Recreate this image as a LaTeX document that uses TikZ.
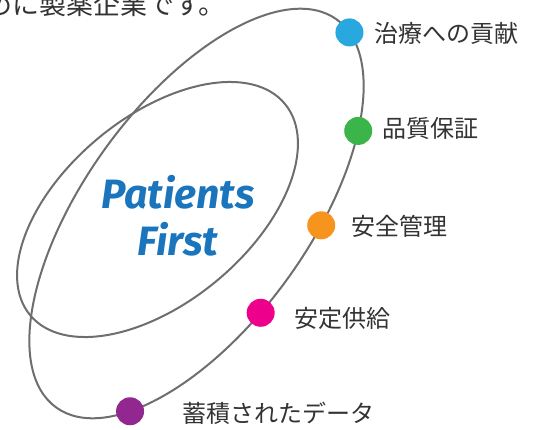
\documentclass[tikz,border=0pt]{standalone}
\usepackage{fontspec}
\setmainfont{Noto Sans CJK JP}
\newfontfamily\mottofont{Fira Sans}
\usetikzlibrary{positioning}
\definecolor{ringGray}{HTML}{6E6E6E}
\definecolor{textGray}{HTML}{333333}
\definecolor{mottoBlue}{HTML}{1B75BC}
\definecolor{careBlue}{HTML}{29A8E0}
\definecolor{qualGreen}{HTML}{3BB54A}
\definecolor{safeOrange}{HTML}{F7941D}
\definecolor{supplyPink}{HTML}{EC008C}
\definecolor{dataPurple}{HTML}{92278F}
\tikzset{ring/.style={draw=ringGray,line width=2pt},
  dot/.style={circle,inner sep=0pt,minimum size=28pt},
  lbl/.style={anchor=west,inner sep=0pt,text=textGray,
    font=\fontsize{24}{24}\selectfont}}

\begin{document}
\begin{tikzpicture}[x=1pt,y=1pt]
    \useasboundingbox (0,0) rectangle (537,429);
    \clip (0,0) rectangle (537,429);

    % cut-off line of text above
    \node[anchor=base west,inner sep=0pt,text=textGray,
      font=\fontsize{27}{27}\selectfont] (intro) at (-15,414) {めに製薬企業です。};

    % the two rings
    \draw[ring,rotate around={39.7:(157.5,219.5)}]
      (157.5,219.5) ellipse [x radius=165.5,y radius=92.7];
    \draw[ring,rotate around={54.1:(196.5,215.5)}]
      (196.5,215.5) ellipse [x radius=239.4,y radius=112];

    % dots on the outer ring
    \begin{scope}[shift={(196.5,215.5)},rotate=54.1]
      \foreach \t/\col/\name in {-9.1/careBlue/care,-47.5/qualGreen/qual,
        -74.6/safeOrange/safe,-100.3/supplyPink/supply,-146.3/dataPurple/data}
        \node[dot,fill=\col] (\name) at ({239.4*cos(\t)},{112*sin(\t)}) {};
    \end{scope}

    \node[lbl] (careL) at (374,396) {治療への貢献};
    \node[lbl] (qualL) at (382,301) {品質保証};
    \node[lbl] (safeL) at (351,203) {安全管理};
    \node[lbl] (supplyL) at (294,111) {安定供給};
    \node[lbl] (dataL) at (182,16) {蓄積されたデータ};

    \node[text=mottoBlue,align=center,
      font=\mottofont\bfseries\itshape\fontsize{41}{47}\selectfont] (motto) at (178,213) {Patients\\First};
  \end{tikzpicture}
\end{document}
